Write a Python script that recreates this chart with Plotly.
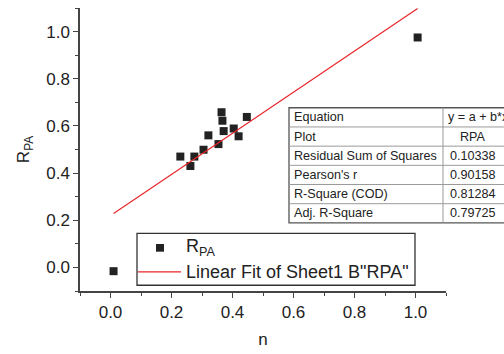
import numpy as np
import plotly.graph_objects as go

# Measured R_PA against n
n_vals = [0.010, 0.229, 0.262, 0.275, 0.305, 0.321, 0.354, 0.364, 0.367, 0.371, 0.404, 0.420, 0.447, 1.007]
rpa_vals = [-0.016, 0.470, 0.430, 0.470, 0.499, 0.560, 0.523, 0.658, 0.622, 0.578, 0.589, 0.556, 0.638, 0.975]

# Fit statistics table
table_labels = ["Equation", "Plot", "Residual Sum of Squares", "Pearson's r", "R-Square (COD)", "Adj. R-Square"]
table_values = ["y = a + b*x", "RPA", "0.10338", "0.90158", "0.81284", "0.79725"]

# Linear least-squares fit over the data range
slope, intercept = np.polyfit(n_vals, rpa_vals, 1)
fit_x = [min(n_vals), max(n_vals)]
fit_y = [intercept + slope * v for v in fit_x]

W, H = 504, 354
ML, MR, MT, MB = 80, 58, 8, 51
PW, PH = W - ML - MR, H - MT - MB

def px(x):
    return (x - ML) / PW

def py(y):
    return (H - MB - y) / PH

FONT = "Liberation Sans, Arial, sans-serif"
INK = "#222222"
RED = "#e8262a"

fig = go.Figure()
fig.add_trace(go.Scatter(x=n_vals, y=rpa_vals, mode="markers",
                         marker=dict(symbol="square", size=8, color=INK),
                         showlegend=False, cliponaxis=False))
fig.add_trace(go.Scatter(x=fit_x, y=fit_y, mode="lines",
                         line=dict(color=RED, width=1.2), showlegend=False))

shapes = []
annotations = []

# Legend box
lx0, lx1, ly0, ly1 = 137, 415, 243, 297
shapes.append(dict(type="rect", xref="paper", yref="paper", x0=px(lx0), x1=px(lx1),
                   y0=py(ly1), y1=py(ly0), line=dict(color="#333333", width=1.3),
                   fillcolor="white", layer="above"))
shapes.append(dict(type="rect", xref="paper", yref="paper", x0=px(156), x1=px(164),
                   y0=py(262), y1=py(254), line=dict(width=0), fillcolor=INK, layer="above"))
shapes.append(dict(type="line", xref="paper", yref="paper", x0=px(lx0 + 1), x1=px(181),
                   y0=py(283), y1=py(283), line=dict(color=RED, width=1.2), layer="above"))
annotations.append(dict(xref="paper", yref="paper", x=px(184), y=py(258), xanchor="left",
                        yanchor="middle", showarrow=False, text="R<sub>PA</sub>",
                        font=dict(family=FONT, size=18, color=INK)))
annotations.append(dict(xref="paper", yref="paper", x=px(184), y=py(283), xanchor="left",
                        yanchor="middle", showarrow=False, text='Linear Fit of Sheet1 B"RPA"',
                        font=dict(family=FONT, size=18, color=INK)))

# Statistics table (its right column runs past the page edge)
tx0, tdiv, tx1 = 289, 443, 520
ty0, row_h = 112, 20
nrows = len(table_labels)
shapes.append(dict(type="rect", xref="paper", yref="paper", x0=px(tx0), x1=px(tx1),
                   y0=py(ty0 + nrows * row_h), y1=py(ty0), line=dict(color="#555555", width=1.3),
                   fillcolor="white", layer="above"))
for i in range(1, nrows):
    yy = ty0 + i * row_h
    shapes.append(dict(type="line", xref="paper", yref="paper", x0=px(tx0), x1=px(tx1),
                       y0=py(yy), y1=py(yy), line=dict(color="#9a9a9a", width=1), layer="above"))
shapes.append(dict(type="line", xref="paper", yref="paper", x0=px(tdiv), x1=px(tdiv),
                   y0=py(ty0), y1=py(ty0 + nrows * row_h), line=dict(color="#9a9a9a", width=1),
                   layer="above"))
for i, (lab, val) in enumerate(zip(table_labels, table_values)):
    yc = ty0 + i * row_h + row_h / 2
    annotations.append(dict(xref="paper", yref="paper", x=px(tx0 + 3), y=py(yc),
                            xanchor="left", yanchor="middle", showarrow=False, text=lab,
                            font=dict(family=FONT, size=12.6, color=INK)))
    if i == 0:
        annotations.append(dict(xref="paper", yref="paper", x=px(tdiv + 3), y=py(yc),
                                xanchor="left", yanchor="middle", showarrow=False, text=val,
                                font=dict(family=FONT, size=12.6, color=INK)))
    else:
        annotations.append(dict(xref="paper", yref="paper", x=px(473), y=py(yc),
                                xanchor="center", yanchor="middle", showarrow=False, text=val,
                                font=dict(family=FONT, size=12.6, color=INK)))

axis_common = dict(showline=True, linecolor="#444444", linewidth=1.5, showgrid=False,
                   zeroline=False, ticks="outside", ticklen=5, tickwidth=1.2, tickcolor="#444444",
                   tickfont=dict(family=FONT, size=17, color=INK), tickformat=".1f",
                   tick0=0, dtick=0.2,
                   minor=dict(ticks="outside", ticklen=3, tickwidth=1, tickcolor="#444444",
                              dtick=0.1, tick0=0, showgrid=False))

fig.update_layout(
    width=W, height=H,
    margin=dict(l=ML, r=MR, t=MT, b=MB),
    paper_bgcolor="white", plot_bgcolor="white",
    xaxis=dict(range=[-0.1, 1.1], title=dict(text="n", font=dict(family=FONT, size=17, color=INK),
                                             standoff=12), **axis_common),
    yaxis=dict(range=[-0.1, 1.1], title=dict(text="R<sub>PA</sub>",
                                             font=dict(family=FONT, size=17, color=INK),
                                             standoff=12), **axis_common),
    shapes=shapes, annotations=annotations, showlegend=False,
)

fig.write_html("out.html")
